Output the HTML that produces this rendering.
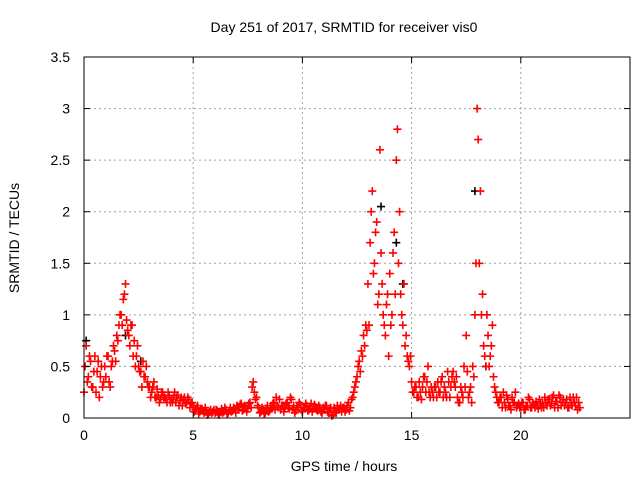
<!DOCTYPE html>
<html><head><meta charset="utf-8"><style>
body{margin:0;background:#fff}
svg text{font-family:"Liberation Sans",Arial,sans-serif;font-size:14px;fill:#000}
</style></head><body>
<svg id="chart" width="640" height="480" xmlns="http://www.w3.org/2000/svg">
<text x="344" y="32" text-anchor="middle">Day 251 of 2017, SRMTID for receiver vis0</text>
<text x="344" y="471" text-anchor="middle">GPS time / hours</text>
<text transform="translate(19,238) rotate(-90)" text-anchor="middle">SRMTID / TECUs</text>
<g id="grid"></g><g id="marks"></g><g id="axes"></g>
</svg>
<script>
const xTicks=[0,5,10,15,20];
const yTicks=[0,0.5,1,1.5,2,2.5,3,3.5];
const yTickLabels=["0","0.5","1","1.5","2","2.5","3","3.5"];
const vals=[0.25,0.7,0.4,0.55,0.3,0.6,0.45,0.2,0.5,0.35,
0.4,0.6,0.3,0.55,0.65,0.8,0.9,1.0,1.15,1.3,
0.85,0.7,0.9,0.75,0.6,0.5,0.45,0.55,0.4,0.35,
0.3,0.25,0.35,0.2,0.22,0.18,0.25,0.2,0.15,0.22,
0.18,0.2,0.15,0.22,0.17,0.12,0.2,0.15,0.18,0.14,
0.1,0.08,0.12,0.06,0.09,0.05,0.07,0.04,0.08,0.06,
0.05,0.07,0.03,0.09,0.06,0.08,0.05,0.1,0.07,0.09,
0.12,0.1,0.14,0.08,0.11,0.09,0.15,0.3,0.25,0.2,
0.1,0.06,0.08,0.05,0.12,0.07,0.09,0.15,0.2,0.1,
0.08,0.12,0.1,0.15,0.09,0.18,0.12,0.07,0.1,0.13,
0.06,0.1,0.12,0.08,0.14,0.09,0.11,0.07,0.1,0.05,
0.08,0.12,0.05,0.1,0.03,0.07,0.12,0.09,0.06,0.1,
0.08,0.15,0.1,0.2,0.3,0.4,0.55,0.65,0.8,0.9,
1.3,1.7,2.2,1.5,1.9,1.2,1.6,1.0,0.8,1.2,
1.4,1.0,1.8,2.5,1.5,1.2,0.9,0.7,0.6,0.5,
0.35,0.25,0.3,0.2,0.25,0.3,0.4,0.35,0.25,0.3,
0.2,0.3,0.35,0.25,0.4,0.3,0.2,0.35,0.3,0.45,
0.3,0.2,0.15,0.25,0.5,0.8,0.2,0.3,0.5,1.0,
3.0,1.5,1.0,0.7,0.5,0.8,0.6,0.9,0.3,0.2,
0.15,0.2,0.25,0.1,0.18,0.12,0.2,0.15,0.1,0.14,
0.1,0.15,0.08,0.12,0.18,0.1,0.13,0.16,0.09,0.14,
0.15,0.2,0.12,0.18,0.14,0.22,0.16,0.1,0.2,0.15,
0.12,0.18,0.1,0.15,0.2,0.12,0.08,0.1];
const vals2=[0.5,0.35,0.6,0.3,0.45,0.25,0.55,0.4,0.3,0.5,
0.6,0.35,0.5,0.7,0.55,0.75,1.0,0.9,1.2,0.95,
0.8,0.9,0.6,0.5,0.7,0.45,0.3,0.4,0.5,0.3,
0.2,0.3,0.2,0.28,0.15,0.25,0.2,0.18,0.25,0.15,
0.15,0.25,0.2,0.12,0.2,0.18,0.14,0.2,0.1,0.15,
0.06,0.1,0.04,0.09,0.07,0.1,0.03,0.06,0.05,0.08,
0.08,0.04,0.06,0.05,0.1,0.04,0.07,0.06,0.1,0.05,
0.08,0.13,0.07,0.12,0.06,0.14,0.1,0.35,0.18,0.12,
0.05,0.1,0.04,0.09,0.06,0.1,0.14,0.08,0.12,0.18,
0.12,0.06,0.14,0.1,0.2,0.08,0.05,0.12,0.15,0.08,
0.1,0.14,0.07,0.11,0.06,0.13,0.08,0.12,0.06,0.1,
0.12,0.06,0.09,0.02,0.1,0.05,0.08,0.12,0.1,0.06,
0.12,0.07,0.18,0.25,0.35,0.5,0.45,0.6,0.7,0.85,
0.9,2.0,1.4,1.8,1.1,2.6,1.3,0.9,1.1,0.6,
0.9,1.6,1.2,2.8,2.0,1.0,1.3,0.8,0.55,0.6,
0.25,0.3,0.2,0.35,0.18,0.4,0.25,0.5,0.2,0.25,
0.3,0.2,0.25,0.35,0.2,0.25,0.45,0.2,0.4,0.35,
0.4,0.15,0.3,0.2,0.3,0.45,0.25,0.15,0.4,1.5,
2.7,2.2,1.2,0.6,1.0,0.5,0.7,0.4,0.25,0.15,
0.2,0.1,0.15,0.22,0.12,0.08,0.15,0.25,0.12,0.1,
0.15,0.08,0.12,0.2,0.1,0.15,0.1,0.12,0.18,0.1,
0.1,0.15,0.18,0.12,0.2,0.1,0.16,0.22,0.12,0.18,
0.15,0.1,0.2,0.12,0.15,0.2,0.15];
const blackTimes=[0.1,1.9,2.6,13.6,14.3,14.6,17.9,18.4];
const blackVals=[0.75,0.8,0.55,2.05,1.7,1.3,2.2,0.5];
const X0=84,X1=630,Y0=418,Y1=57,XMAX=25,YMAX=3.5;
const xs=v=>X0+(X1-X0)*v/XMAX, ys=v=>Y0-(Y0-Y1)*v/YMAX;
const NS="http://www.w3.org/2000/svg";
function mk(t,a,p){const e=document.createElementNS(NS,t);for(const k in a)e.setAttribute(k,a[k]);p.appendChild(e);return e;}
const grid=document.getElementById('grid'),axes=document.getElementById('axes'),marks=document.getElementById('marks');
[5,10,15,20].forEach(v=>{const l=mk('line',{x1:xs(v),x2:xs(v),y1:Y1,y2:Y0,stroke:'#a0a0a0','stroke-dasharray':'2,3'},grid);

});
yTicks.slice(1,-1).forEach(v=>{const l=mk('line',{x1:X0,x2:X1,y1:ys(v),y2:ys(v),stroke:'#a0a0a0','stroke-dasharray':'2,3'},grid);

});
const fr=mk('rect',{x:X0,y:Y1,width:X1-X0,height:Y0-Y1,fill:'none',stroke:'#000'},axes);


xTicks.forEach(v=>{mk('line',{x1:xs(v),x2:xs(v),y1:Y0,y2:Y0-6,stroke:'#000'},axes);mk('line',{x1:xs(v),x2:xs(v),y1:Y1,y2:Y1+6,stroke:'#000'},axes);
const t=mk('text',{x:xs(v),y:Y0+22,'text-anchor':'middle'},axes);t.textContent=v;

});
yTicks.forEach((v,i)=>{mk('line',{x1:X0,x2:X0+6,y1:ys(v),y2:ys(v),stroke:'#000'},axes);mk('line',{x1:X1,x2:X1-6,y1:ys(v),y2:ys(v),stroke:'#000'},axes);
const t=mk('text',{x:X0-14,y:ys(v)+5,'text-anchor':'end'},axes);t.textContent=yTickLabels[i];

});
function plus(t,v,c){const x=xs(t),y=ys(v);const p=mk('path',{d:`M${x-4},${y}H${x+4}M${x},${y-4}V${y+4}`,stroke:c,'stroke-width':1.6,fill:'none'},marks);

}
blackTimes.forEach((t,i)=>plus(t,blackVals[i],'#000'));
vals.forEach((v,i)=>plus(i*0.1,v,'#f00'));
vals2.forEach((v,i)=>plus(i*0.1+0.05,v,'#f00'));
</script>
</body></html>
